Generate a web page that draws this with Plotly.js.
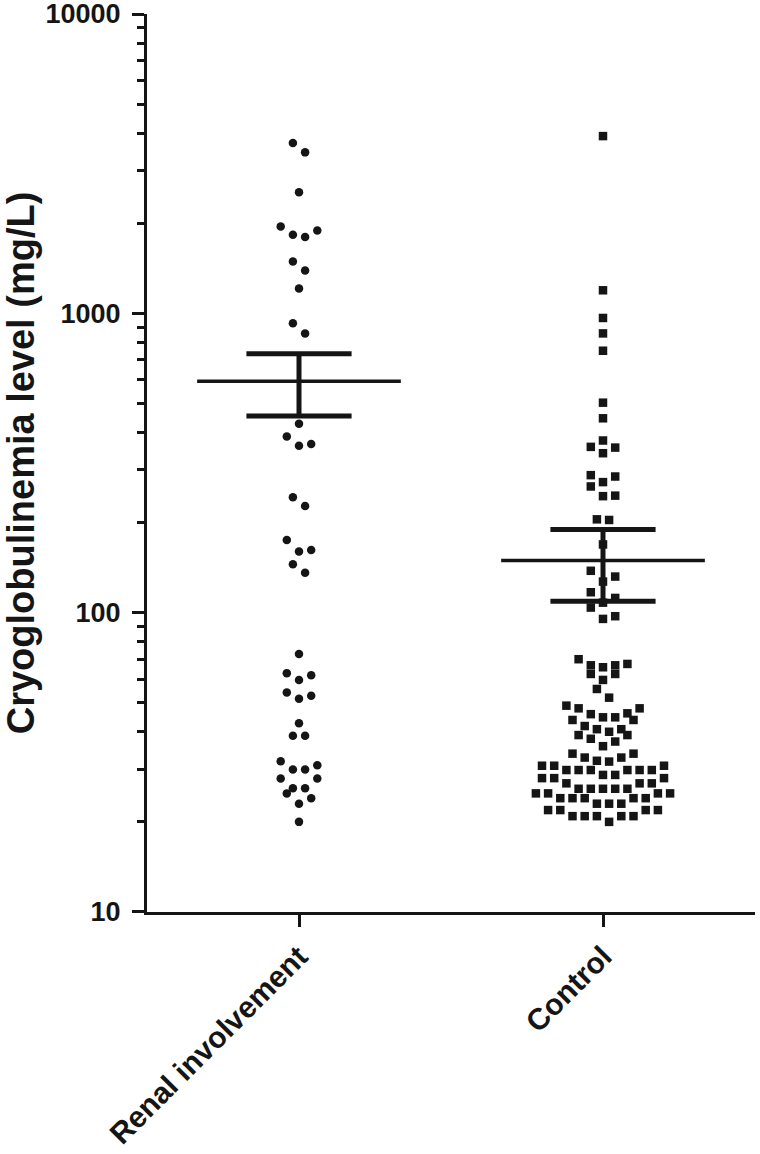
<!DOCTYPE html>
<html><head><meta charset="utf-8">
<script src="https://cdn.plot.ly/plotly-3.0.1.min.js"></script>
<style>html,body{margin:0;padding:0;background:#fff}</style>
</head><body>
<div id="chart" style="width:760px;height:1154px"></div>
<script>
// ---- data ----
const categories = ['Renal involvement', 'Control'];
const renalValues = [3710, 3450, 2540, 1950, 1890, 1830, 1800, 1490, 1390, 1210, 926, 857,
  428, 388, 366, 361, 243, 227, 175, 162, 160, 145, 136,
  72.8, 62.8, 61.8, 59.6, 54.1, 52.8, 51.6, 42.7, 38.8, 38.8, 31.9, 30.9, 29.9, 29.9,
  27.9, 27.9, 25.9, 25.9, 24.9, 24.0, 23.0, 20.0];
const controlValues = [3910, 1194, 965, 857, 750, 503, 446, 376, 358, 356, 341,
  288, 285, 273, 264, 246, 245, 205, 204, 169, 138, 132, 127, 117, 112, 108, 104, 97.3, 95.3,
  69.9, 67.4, 66.7, 66.7, 65.7, 62.4, 62.4, 59.6, 55.6, 52.0,
  48.9, 47.9, 47.9, 46.1, 45.8, 44.7, 44.7, 43.8, 43.8, 41.8, 40.8, 40.8, 40.0, 39.0, 39.0,
  37.9, 37.1, 35.8, 33.8, 33.8, 32.8, 32.8, 32.0, 31.8, 30.8, 30.8, 30.8,
  29.8, 29.8, 29.8, 29.8, 29.8, 29.8, 28.7, 28.7, 28.0, 28.0, 28.0, 26.9, 26.9, 26.9,
  25.8, 25.8, 25.8, 25.8, 25.8, 24.9, 24.9, 24.9, 24.9, 24.0, 24.0, 24.0, 24.0, 24.0,
  23.0, 23.0, 23.0, 21.9, 21.9, 21.9, 21.9, 20.9, 20.9, 20.9, 20.9, 20.9, 20.0];
const yTickValues = [10, 100, 1000, 10000];
const yTickLabels = ['10', '100', '1000', '10000'];
const yTitle = 'Cryoglobulinemia level (mg/L)';

// ---- layout geometry ----
const W = 760, H = 1154;
const margin = {l: 147, r: 5, t: 14, b: 242, pad: 0};
const plotW = W - margin.l - margin.r;
const plotH = H - margin.t - margin.b;
const yLogRange = [0.9999, 4.0001];
const xRange = [-0.5, 1.5];
const pxPerDecade = plotH / (yLogRange[1] - yLogRange[0]);
const pxPerXUnit = plotW / (xRange[1] - xRange[0]);
const PITCH = 12.2; // swarm pitch in px
const INK = '#151515';
const FONT = 'Liberation Sans, Arial, Helvetica, sans-serif';

// Prism-like swarm: rows formed bottom-up, spread symmetrically within a row
function swarm(values, center) {
  const s = values.slice().sort((a, b) => a - b);
  const xs = [], ys = [];
  let i = 0;
  while (i < s.length) {
    const p0 = Math.log10(s[i]) * pxPerDecade;
    let j = i;
    while (j < s.length && Math.log10(s[j]) * pxPerDecade - p0 < PITCH) j++;
    const n = j - i, slots = [];
    if (n % 2) { slots.push(0); for (let k = 1; slots.length < n; k++) { slots.push(k); if (slots.length < n) slots.push(-k); } }
    else { for (let k = 0.5; slots.length < n; k++) { slots.push(k); if (slots.length < n) slots.push(-k); } }
    for (let m = 0; m < n; m++) { xs.push(center + slots[m] * PITCH / pxPerXUnit); ys.push(s[i + m]); }
    i = j;
  }
  return {xs, ys};
}
function meanSem(v) {
  const n = v.length, m = v.reduce((a, b) => a + b, 0) / n;
  const sd = Math.sqrt(v.reduce((a, b) => a + (b - m) * (b - m), 0) / (n - 1));
  return {m, sem: sd / Math.sqrt(n)};
}

const groups = [renalValues, controlValues];
const symbols = ['circle', 'square'];
const traces = [];
groups.forEach((vals, gi) => {
  const sw = swarm(vals, gi);
  traces.push({type: 'scatter', mode: 'markers', x: sw.xs, y: sw.ys, name: categories[gi],
    marker: {symbol: symbols[gi], size: 8.5, color: INK, line: {width: 0}}, hoverinfo: 'y'});
});
const MEAN_HALF = 0.335, CAP_HALF = 0.173;
groups.forEach((vals, gi) => {
  const {m, sem} = meanSem(vals);
  traces.push({type: 'scatter', mode: 'lines', x: [gi - MEAN_HALF, gi + MEAN_HALF], y: [m, m],
    line: {color: INK, width: 3.5}, hoverinfo: 'skip'});
  traces.push({type: 'scatter', mode: 'lines',
    x: [gi, gi, null, gi - CAP_HALF, gi + CAP_HALF, null, gi - CAP_HALF, gi + CAP_HALF],
    y: [m - sem, m + sem, null, m + sem, m + sem, null, m - sem, m - sem],
    line: {color: INK, width: 5}, hoverinfo: 'skip'});
});

const minorTicks = [];
for (let d = 1; d < 4; d++) for (let k = 2; k <= 9; k++) minorTicks.push(k * Math.pow(10, d));

const layout = {
  width: W, height: H, margin: margin, showlegend: false,
  paper_bgcolor: '#fff', plot_bgcolor: '#fff',
  xaxis: {range: xRange, tickmode: 'array', tickvals: [0, 1], ticktext: categories, tickangle: -45,
    ticks: 'outside', ticklen: 12, tickwidth: 3, tickcolor: INK,
    showline: true, linewidth: 3, linecolor: INK, showgrid: false, zeroline: false,
    tickfont: {family: FONT, size: 30, color: INK, weight: 'bold'}},
  yaxis: {type: 'log', range: yLogRange, tickmode: 'array', tickvals: yTickValues, ticktext: yTickLabels,
    ticks: 'outside', ticklen: 12, tickwidth: 3, tickcolor: INK, ticklabelstandoff: 6,
    ticklabeloverflow: 'allow',
    showline: true, linewidth: 3, linecolor: INK, showgrid: false, zeroline: false,
    minor: {tickmode: 'array', tickvals: minorTicks, ticks: 'outside', ticklen: 7, tickwidth: 3, tickcolor: INK, showgrid: false},
    tickfont: {family: FONT, size: 27, color: INK, weight: 'bold'},
    title: {text: yTitle, standoff: 12, font: {family: FONT, size: 38, color: INK, weight: 'bold'}}}
};
Plotly.newPlot('chart', traces, layout, {displayModeBar: false, staticPlot: true});
</script>
</body></html>
